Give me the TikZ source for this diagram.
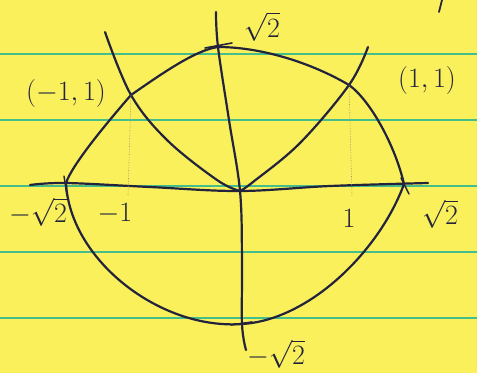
\RequirePackage{fix-cm}
\documentclass[tikz,border=0pt]{standalone}
\definecolor{paper}{RGB}{250,240,92}
\definecolor{rule}{RGB}{70,190,140}
\definecolor{ink}{RGB}{35,35,60}
\definecolor{faint}{RGB}{150,150,120}
\tikzset{
  pen/.style={draw=ink, line width=2.2pt, line cap=round, line join=round},
  thinpen/.style={draw=faint, line width=0.6pt, densely dotted},
  lbl/.style={text=ink, font=\fontsize{28}{30}\selectfont, inner sep=1pt},
  ruling/.style={draw=rule, line width=1.4pt}
}
\begin{document}
\begin{tikzpicture}[x=1pt,y=-1pt]
\fill[paper] (0,0) rectangle (477,373);
\useasboundingbox (0,0) rectangle (477,373);
% ruled lines
\foreach \yy in {54,120,186,252,318} { \draw[ruling] (0,\yy) -- (477,\yy); }
% key points
\coordinate (O) at (240,191);
\coordinate (T) at (218,47);
\coordinate (R) at (404,184);
\coordinate (B) at (242,324);
\coordinate (L) at (66,183);
\coordinate (P1) at (131,95);
\coordinate (P2) at (349,85);
% circle
\draw[pen] (T) .. controls (260,47) and (310,62) .. (P2)
  .. controls (370,100) and (395,145) .. (R)
  .. controls (380,250) and (310,320) .. (B)
  .. controls (160,330) and (70,260) .. (L)
  .. controls (72,165) and (105,125) .. (P1)
  .. controls (160,75) and (195,50) .. (T) -- cycle;
% axes
\draw[pen] plot[smooth, tension=0.6] coordinates {(30,185) (66,183) (150,187) (240,191) (330,186) (428,183)};
\draw[pen] plot[smooth, tension=0.6] coordinates {(216,12) (218,47) (229,120) (240,191) (242,260) (242,324) (246,350)};
% V curves
\draw[pen] plot[smooth, tension=0.6] coordinates {(105,32) (131,95) (167,140) (217,180) (240,191)};
\draw[pen] plot[smooth, tension=0.6] coordinates {(368,47) (349,85) (300,143) (253,182) (240,191)};
% small ticks
\draw[pen, line width=1.6pt] (205,48) -- (232,43);
\draw[pen, line width=1.6pt] (231,325) -- (252,322);
\draw[pen, line width=1.4pt] (64,176) -- (67,196);
\draw[pen, line width=1.4pt] (401,178) -- (409,194);
% dotted drop lines
\draw[thinpen] (P1) -- (128,196);
\draw[thinpen] (P2) -- (352,196);
% corner mark
\draw[pen, line width=1.8pt] (442,0) -- (439,12);
% labels
\node[lbl, anchor=north] (lt) at (262,11) {$\sqrt{2}$};
\node[lbl] (lp1) at (66,93) {$(-1,1)$};
\node[lbl] (lp2) at (427,80) {$(1,1)$};
\node[lbl] (ll) at (38,212) {$-\sqrt{2}$};
\node[lbl] (lm1) at (115,214) {$-1$};
\node[lbl] (l1) at (349,218) {$1$};
\node[lbl] (lr) at (440,214) {$\sqrt{2}$};
\node[lbl] (lb) at (276,354) {$-\sqrt{2}$};
\end{tikzpicture}
\end{document}
